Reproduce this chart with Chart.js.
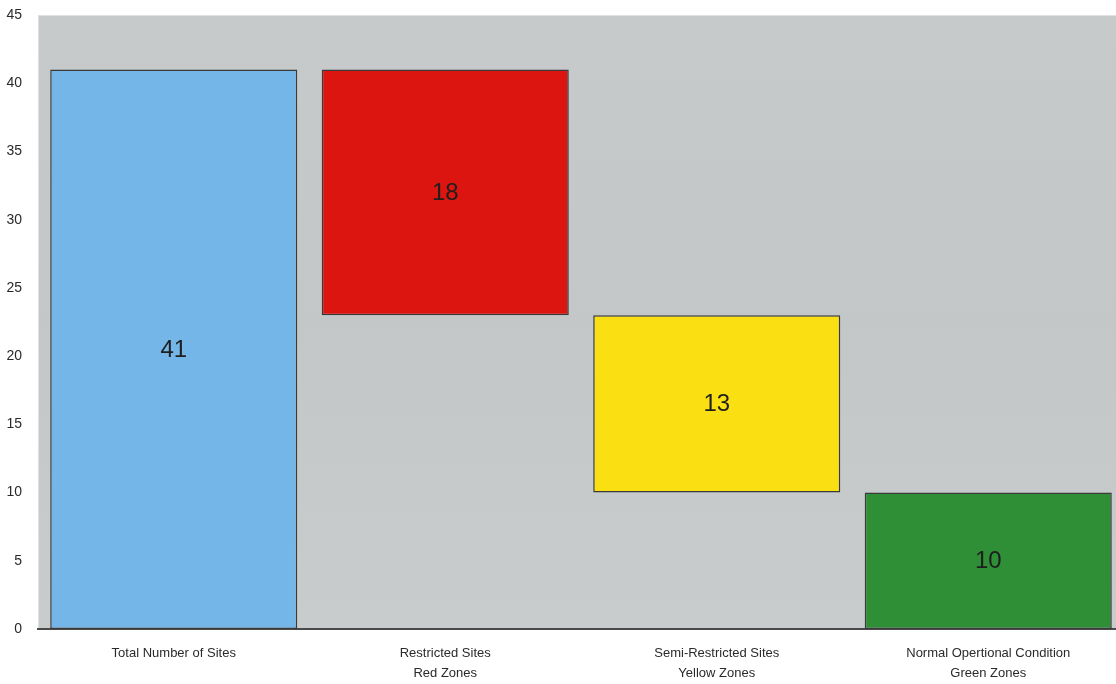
<!DOCTYPE html>
<html>
<head>
<meta charset="utf-8">
<script src="https://cdn.jsdelivr.net/npm/chart.js@4"></script>
<style>
  html, body { margin: 0; padding: 0; background: #fff; overflow: hidden; }
  #wrap { width: 1116px; height: 684px; overflow: hidden; }
</style>
</head>
<body>
<div id="wrap"><canvas id="sitesChart" width="1124" height="684"></canvas></div>
<script>
// data
const categories = [
    ['Total Number of Sites'],
    ['Restricted Sites', 'Red Zones'],
    ['Semi-Restricted Sites', 'Yellow Zones'],
    ['Normal Opertional Condition', 'Green Zones']
];
const barStarts = [0, 23, 10, 0];
const barEnds = [41, 41, 23, 10];
const barLabels = [41, 18, 13, 10];
const barColors = ['#74b6e8', '#dd1511', '#fae013', '#2e8f36'];
const yTicks = [0, 5, 10, 15, 20, 25, 30, 35, 40, 45];

// grey paper behind the plot
const plotBackground = {
    id: 'plotBackground',
    beforeDraw(chart) {
        const { ctx, chartArea: a } = chart;
        const g = ctx.createLinearGradient(0, a.top, 0, a.bottom);
        g.addColorStop(0, '#c6cacb');
        g.addColorStop(0.5, '#c3c7c8');
        g.addColorStop(1, '#c8cccc');
        ctx.save();
        ctx.fillStyle = g;
        ctx.fillRect(a.left, a.top, a.right - a.left, a.bottom - a.top);
        ctx.strokeStyle = '#dfe2e2';
        ctx.lineWidth = 1;
        ctx.strokeRect(a.left + 0.5, a.top + 0.5, a.right - a.left - 1, a.bottom - a.top);
        ctx.restore();
    }
};

// numbers in the middle of each bar
const barValueLabels = {
    id: 'barValueLabels',
    afterDatasetsDraw(chart) {
        const { ctx } = chart;
        const meta = chart.getDatasetMeta(0);
        ctx.save();
        ctx.font = '24px "Liberation Sans", Arial, sans-serif';
        ctx.fillStyle = '#1e1e1e';
        ctx.textAlign = 'center';
        ctx.textBaseline = 'middle';
        meta.data.forEach((bar, i) => {
            const mid = (bar.y + bar.base) / 2;
            ctx.fillText(String(barLabels[i]), bar.x, mid + 1);
        });
        ctx.restore();
    }
};

new Chart(document.getElementById('sitesChart'), {
    type: 'bar',
    data: {
        labels: categories,
        datasets: [{
            data: barStarts.map((s, i) => [s, barEnds[i]]),
            backgroundColor: barColors,
            borderColor: '#3a3a3a',
            borderWidth: 1.5,
            borderSkipped: false,
            categoryPercentage: 1,
            barPercentage: 0.91
        }]
    },
    options: {
        responsive: false,
        animation: false,
        layout: { padding: { top: 0, right: 0, bottom: 0, left: 0 } },
        plugins: {
            legend: { display: false },
            tooltip: { enabled: false }
        },
        scales: {
            x: {
                grid: { display: false },
                border: { display: true, color: '#4a4a4a', width: 2 },
                ticks: {
                    color: '#2a2a2a',
                    font: { family: '"Liberation Sans", Arial, sans-serif', size: 13, lineHeight: 1.5 },
                    padding: 7,
                    maxRotation: 0
                },
                afterFit: s => { s.height = 55; }
            },
            y: {
                min: 0,
                max: 45,
                afterBuildTicks: s => { s.ticks = yTicks.map(v => ({ value: v })); },
                grid: { display: false },
                border: { display: false },
                ticks: {
                    color: '#2a2a2a',
                    font: { family: '"Liberation Sans", Arial, sans-serif', size: 14, lineHeight: 1 },
                    padding: 8
                },
                afterFit: s => { s.width = 38; }
            }
        }
    },
    plugins: [plotBackground, barValueLabels]
});
</script>
</body>
</html>
